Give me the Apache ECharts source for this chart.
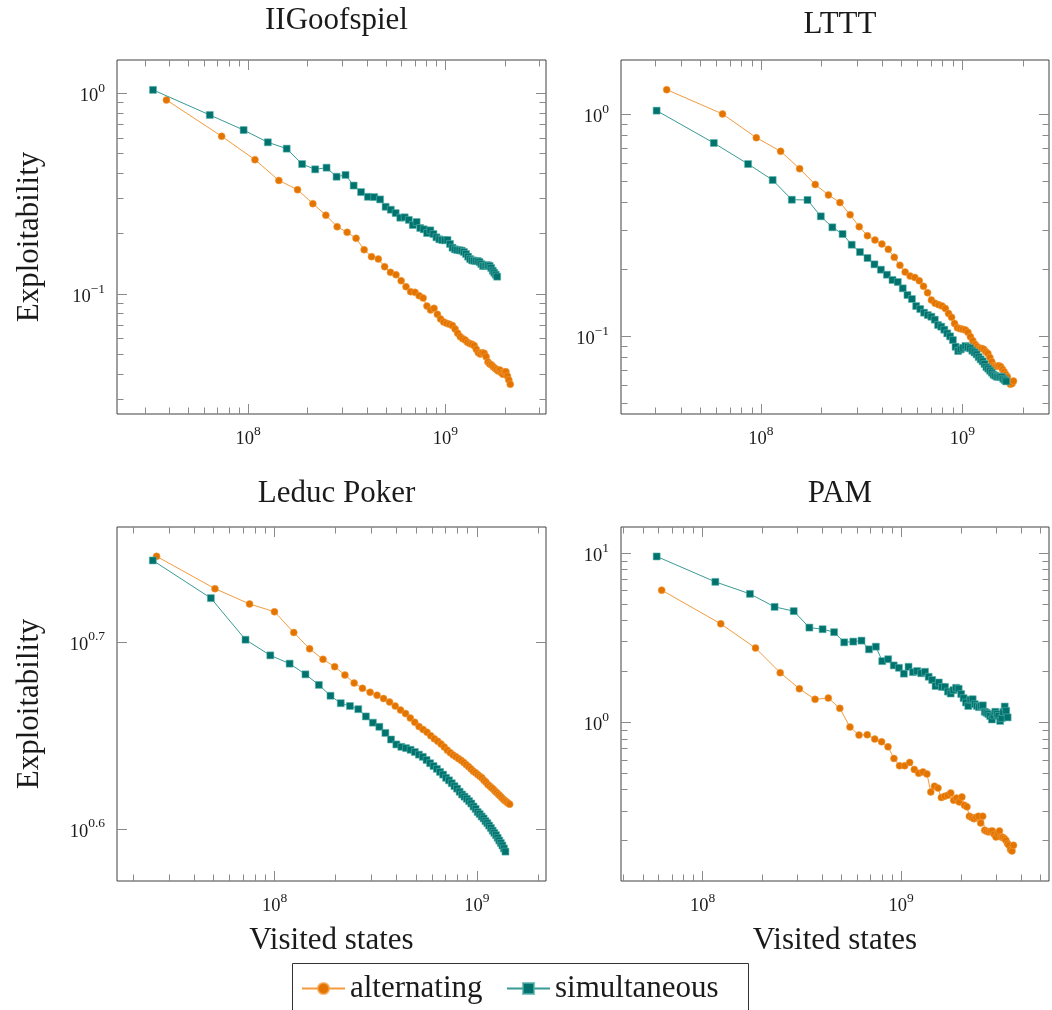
<!DOCTYPE html>
<html><head><meta charset="utf-8">
<script src="https://cdn.jsdelivr.net/npm/echarts@6/dist/echarts.min.js"></script>
<style>html,body{margin:0;padding:0;background:#fff}#chart{width:1052px;height:1010px}</style>
</head><body><div id="chart"></div>
<script>
// ---------------- DATA (x = visited states in millions, y = exploitability) ----------------
const seriesNames = ['alternating', 'simultaneous'];
const panelTitles = ['IIGoofspiel', 'LTTT', 'Leduc Poker', 'PAM'];
const xAxisTitle = 'Visited states';
const yAxisTitle = 'Exploitability';

const goofAltX = [38.6,73.5,108.4,143.3,178.2,213.1,248,282.9,317.8,352.7,387.6,422.5,457.4,492.3,527.2,562.1,597,631.9,666.8,701.7,736.6,771.5,806.4,841.3,876.2,911.1,946,980.9,1015.8,1050.7,1085.6,1120.5,1155.4,1190.3,1225.2,1260.1,1295,1329.9,1364.8,1399.7,1434.6,1469.5,1504.4,1539.3,1574.2,1609.1,1644,1678.9,1713.8,1748.7,1783.6,1818.5,1853.4,1888.3,1923.2,1958.1,1993,2027.9,2062.8,2097.7,2132.6];
const goofAltY = [0.926,0.611,0.467,0.368,0.331,0.282,0.247,0.2165,0.2029,0.1894,0.1663,0.1535,0.1494,0.1368,0.1282,0.1248,0.1165,0.1088,0.1027,0.1019,0.0981,0.0955,0.0871,0.0833,0.0848,0.0792,0.0751,0.0725,0.0714,0.0706,0.0696,0.0669,0.0637,0.0613,0.0599,0.0590,0.0574,0.0566,0.0561,0.0553,0.0530,0.0510,0.0502,0.0510,0.0506,0.0487,0.0458,0.0448,0.0443,0.0434,0.0426,0.0421,0.0413,0.0418,0.0405,0.0398,0.0409,0.0410,0.0390,0.0373,0.0355];
const goofSimX = [33,64,95,126,157,188,219,250,281,312,343,374,405,436,467,498,529,560,591,622,653,684,715,746,777,808,839,870,901,932,963,994,1025,1056,1087,1118,1149,1180,1211,1242,1273,1304,1335,1366,1397,1428,1459,1490,1521,1552,1583,1614,1645,1676,1707,1738,1769,1800,1831];
const goofSimY = [1.04,0.78,0.656,0.570,0.530,0.444,0.418,0.426,0.384,0.392,0.347,0.322,0.305,0.304,0.296,0.272,0.263,0.253,0.240,0.241,0.234,0.2207,0.2284,0.2132,0.2100,0.2012,0.2076,0.1990,0.1916,0.1873,0.1858,0.1851,0.1858,0.1775,0.1701,0.1669,0.1657,0.1651,0.1644,0.1619,0.1582,0.1535,0.1494,0.1471,0.1466,0.1460,0.1460,0.1443,0.1411,0.1379,0.1379,0.1390,0.1390,0.1379,0.1348,0.1307,0.1277,0.1248,0.1220];

const ltttAltX = [34,64.4,94.8,125.2,155.6,186,216.4,246.8,277.2,307.6,338,368.4,398.8,429.2,459.6,490,520.4,550.8,581.2,611.6,642,672.4,702.8,733.2,763.6,794,824.4,854.8,885.2,915.6,946,976.4,1006.8,1037.2,1067.6,1098,1128.4,1158.8,1189.2,1219.6,1250,1280.4,1310.8,1341.2,1371.6,1402,1432.4,1462.8,1493.2,1523.6,1554,1584.4,1614.8,1645.2,1675.6,1706,1736.4,1766.8,1797.2];
const ltttAltY = [1.287,1.0,0.782,0.679,0.567,0.481,0.432,0.399,0.352,0.3109,0.2831,0.2707,0.2597,0.2457,0.2262,0.2082,0.1942,0.1863,0.1837,0.1775,0.1674,0.1567,0.1453,0.1404,0.1384,0.1365,0.1332,0.1265,0.1214,0.1140,0.1090,0.1079,0.1072,0.1064,0.1039,0.0993,0.0953,0.0917,0.0895,0.0880,0.0880,0.0871,0.0850,0.0835,0.0801,0.0766,0.0735,0.0732,0.0732,0.0735,0.0727,0.0708,0.0691,0.0672,0.0656,0.0623,0.0606,0.0612,0.0627];
const ltttSimX = [30.3,58.3,86.3,114.3,142.3,170.3,198.3,226.3,254.3,282.3,310.3,338.3,366.3,394.3,422.3,450.3,478.3,506.3,534.3,562.3,590.3,618.3,646.3,674.3,702.3,730.3,758.3,786.3,814.3,842.3,870.3,898.3,926.3,954.3,982.3,1010.3,1038.3,1066.3,1094.3,1122.3,1150.3,1178.3,1206.3,1234.3,1262.3,1290.3,1318.3,1346.3,1374.3,1402.3,1430.3,1458.3,1486.3,1514.3,1542.3,1570.3,1598.3,1626.3,1654.3];
const ltttSimY = [1.035,0.740,0.595,0.504,0.411,0.410,0.346,0.3087,0.288,0.2578,0.2389,0.2246,0.2103,0.1990,0.1889,0.1788,0.1751,0.1640,0.1530,0.1468,0.1365,0.1323,0.1274,0.1243,0.1222,0.1185,0.1121,0.1102,0.1068,0.1028,0.0997,0.0959,0.0895,0.0856,0.0871,0.0886,0.0902,0.0892,0.0880,0.0859,0.0844,0.0827,0.0804,0.0785,0.0769,0.0748,0.0725,0.0713,0.0698,0.0684,0.0670,0.0663,0.0656,0.0656,0.0656,0.0654,0.0642,0.0633,0.0625];

const leducAltX = [26.1,50.7,75.2,99.8,124.3,148.9,173.4,198,222.5,247.1,271.6,296.2,320.7,345.3,369.8,394.4,418.9,443.5,468,492.6,517.1,541.7,566.2,590.8,615.3,639.9,664.4,689,713.5,738.1,762.6,787.2,811.7,836.3,860.8,885.4,909.9,934.5,959,983.6,1008.1,1032.7,1057.2,1081.8,1106.3,1130.9,1155.4,1180,1204.5,1229.1,1253.6,1278.2,1302.7,1327.3,1351.8,1376.4,1400.9,1425.5,1450];
const leducAltY = [5.568,5.351,5.251,5.201,5.070,4.969,4.905,4.861,4.811,4.764,4.733,4.710,4.693,4.674,4.654,4.631,4.608,4.588,4.563,4.539,4.515,4.499,4.484,4.465,4.448,4.434,4.419,4.403,4.386,4.372,4.360,4.350,4.340,4.331,4.320,4.308,4.297,4.286,4.274,4.266,4.256,4.247,4.239,4.226,4.217,4.205,4.196,4.188,4.180,4.170,4.162,4.153,4.145,4.136,4.128,4.121,4.115,4.109,4.104];
const leducSimX = [25,48.4,71.8,95.2,118.6,142,165.4,188.8,212.2,235.6,259,282.4,305.8,329.2,352.6,376,399.4,422.8,446.2,469.6,493,516.4,539.8,563.2,586.6,610,633.4,656.8,680.2,703.6,727,750.4,773.8,797.2,820.6,844,867.4,890.8,914.2,937.6,961,984.4,1007.8,1031.2,1054.6,1078,1101.4,1124.8,1148.2,1171.6,1195,1218.4,1241.8,1265.2,1288.6,1312,1335.4,1358.8,1382.2];
const leducSimY = [5.540,5.289,5.025,4.929,4.879,4.815,4.753,4.690,4.647,4.631,4.613,4.572,4.537,4.514,4.480,4.444,4.417,4.404,4.397,4.388,4.376,4.362,4.350,4.333,4.316,4.301,4.286,4.270,4.256,4.239,4.226,4.211,4.196,4.183,4.167,4.153,4.142,4.131,4.119,4.107,4.092,4.080,4.064,4.054,4.042,4.032,4.019,4.009,3.997,3.985,3.972,3.961,3.950,3.937,3.924,3.912,3.900,3.886,3.871];

const pamAltX = [62.2,123.4,184.6,245.8,307,368.2,429.4,490.6,551.8,613,674.2,735.4,796.6,857.8,919,980.2,1041.4,1102.6,1163.8,1225,1286.2,1347.4,1408.6,1469.8,1531,1592.2,1653.4,1714.6,1775.8,1837,1898.2,1959.4,2020.6,2081.8,2143,2204.2,2265.4,2326.6,2387.8,2449,2510.2,2571.4,2632.6,2693.8,2755,2816.2,2877.4,2938.6,2999.8,3061,3122.2,3183.4,3244.6,3305.8,3367,3428.2,3489.4,3550.6,3611.8,3673];
const pamAltY = [6.04,3.82,2.75,1.966,1.58,1.368,1.393,1.21,0.938,0.841,0.845,0.797,0.768,0.717,0.612,0.554,0.554,0.580,0.527,0.501,0.510,0.496,0.388,0.420,0.409,0.360,0.366,0.371,0.383,0.347,0.357,0.339,0.363,0.324,0.317,0.279,0.274,0.270,0.275,0.279,0.2545,0.279,0.2306,0.2274,0.2253,0.2274,0.2284,0.2184,0.2103,0.2213,0.2284,0.2103,0.2096,0.2059,0.2011,0.1923,0.1879,0.1772,0.1738,0.1879];
const pamSimX = [58.7,115.9,173.1,230.3,287.5,344.7,401.9,459.1,516.3,573.5,630.7,687.9,745.1,802.3,859.5,916.7,973.9,1031.1,1088.3,1145.5,1202.7,1259.9,1317.1,1374.3,1431.5,1488.7,1545.9,1603.1,1660.3,1717.5,1774.7,1831.9,1889.1,1946.3,2003.5,2060.7,2117.9,2175.1,2232.3,2289.5,2346.7,2403.9,2461.1,2518.3,2575.5,2632.7,2689.9,2747.1,2804.3,2861.5,2918.7,2975.9,3033.1,3090.3,3147.5,3204.7,3261.9,3319.1,3376.3,3433.5];
const pamSimY = [9.55,6.76,5.74,4.81,4.54,3.63,3.55,3.41,2.97,3.00,3.04,2.70,2.80,2.30,2.36,2.17,2.10,1.94,2.13,1.98,2.01,1.95,1.99,1.86,1.78,1.64,1.72,1.62,1.62,1.52,1.48,1.55,1.60,1.58,1.47,1.39,1.31,1.25,1.36,1.37,1.28,1.25,1.23,1.25,1.26,1.155,1.14,1.12,1.09,1.04,1.10,1.155,1.12,1.09,1.02,1.06,1.15,1.24,1.17,1.07];

// ---------------- STYLE / LAYOUT ----------------
const SERIF = "'Liberation Serif','DejaVu Serif',serif";
const TXT = '#1a1a1a';
const TICK = '#8a8a8a';
const ORANGE = '#e37400', ORANGE_LINE = '#f39b3e';
const TEAL = '#00736e', TEAL_LINE = '#3a9a95';
const BIG = 31;

// log10 extents of each panel's axes
const panels = [
  {title: panelTitles[0], alt: [goofAltX, goofAltY], sim: [goofSimX, goofSimY], titleTop: 0,
   grid: {left: 117, top: 60, width: 429, height: 354}, xr: [7.336, 9.51], yr: [-1.598, 0.166], yStep: 1, yMinor: true, yName: true, xName: false},
  {title: panelTitles[1], alt: [ltttAltX, ltttAltY], sim: [ltttSimX, ltttSimY], titleTop: 4,
   grid: {left: 621, top: 60, width: 428, height: 354}, xr: [7.3045, 9.431], yr: [-1.351, 0.243], yStep: 1, yMinor: true, yName: false, xName: false},
  {title: panelTitles[2], alt: [leducAltX, leducAltY], sim: [leducSimX, leducSimY], titleTop: 473,
   grid: {left: 117, top: 527, width: 429, height: 354}, xr: [7.221, 9.341], yr: [0.5721, 0.7614], yStep: 0.1, yMinor: false, yName: true, xName: true},
  {title: panelTitles[3], alt: [pamAltX, pamAltY], sim: [pamSimX, pamSimY], titleTop: 473,
   grid: {left: 621, top: 527, width: 428, height: 354}, xr: [7.589, 9.744], yr: [-0.937, 1.154], yStep: 1, yMinor: true, yName: false, xName: true}
];

function majorTicks(r, step) {
  const out = [];
  for (let k = Math.ceil(r[0] / step - 1e-9); k * step <= r[1] + 1e-9; k++) out.push(+(k * step).toFixed(6));
  return out;
}
function minorTicks(r) {
  const out = [];
  for (let d = Math.floor(r[0]); d <= Math.ceil(r[1]); d++) {
    for (let k = 2; k <= 9; k++) { const v = d + Math.log10(k); if (v > r[0] && v < r[1]) out.push(v); }
  }
  return out;
}
function expLabel(v) {
  let e = Math.abs(v - Math.round(v)) < 1e-6 ? String(Math.round(v)) : (Math.round(v * 10) / 10).toFixed(1);
  e = e.replace('-', '\u2212');
  return '{b|10}{s|' + e + '}';
}
const RICH = {
  b: {fontFamily: SERIF, fontSize: 18.5, color: TXT, padding: [6, 0, 0, 0]},
  s: {fontFamily: SERIF, fontSize: 13.5, color: TXT, padding: [0, 0, 10, 0]}
};

function mkAxis(gi, pos, r, vals, len, withLabels, margin, extra) {
  return Object.assign({
    type: 'value', gridIndex: gi, position: pos, min: r[0], max: r[1], scale: true,
    axisLine: {show: false, onZero: false},
    splitLine: {show: false},
    axisTick: {show: vals.length > 0, inside: true, length: len, customValues: vals, lineStyle: {color: TICK, width: 1}},
    axisLabel: {show: !!withLabels, customValues: vals, formatter: expLabel, rich: RICH, margin: margin || 8},
    silent: true
  }, extra || {});
}

const xAxes = [], yAxes = [], grids = [], titles = [], series = [];
panels.forEach((p, gi) => {
  grids.push(Object.assign({show: true, borderColor: '#404040', borderWidth: 1, backgroundColor: 'transparent', containLabel: false}, p.grid));
  const xMaj = majorTicks(p.xr, 1), xMin = minorTicks(p.xr);
  const yMaj = majorTicks(p.yr, p.yStep), yMin = p.yMinor ? minorTicks(p.yr) : [];
  xAxes.push(mkAxis(gi, 'bottom', p.xr, xMaj, 10, true, 10, p.xName ? {
    name: xAxisTitle, nameLocation: 'middle', nameGap: 44,
    nameTextStyle: {fontFamily: SERIF, fontSize: BIG, color: TXT}
  } : {}));
  xAxes.push(mkAxis(gi, 'bottom', p.xr, xMin, 6.5, false));
  xAxes.push(mkAxis(gi, 'top', p.xr, xMaj, 10, false));
  xAxes.push(mkAxis(gi, 'top', p.xr, xMin, 6.5, false));
  yAxes.push(mkAxis(gi, 'left', p.yr, yMaj, 10, true, 12, p.yName ? {
    name: yAxisTitle, nameLocation: 'middle', nameGap: 72, nameRotate: 90,
    nameTextStyle: {fontFamily: SERIF, fontSize: BIG, color: TXT}
  } : {}));
  yAxes.push(mkAxis(gi, 'left', p.yr, yMin, 6.5, false));
  yAxes.push(mkAxis(gi, 'right', p.yr, yMaj, 10, false));
  yAxes.push(mkAxis(gi, 'right', p.yr, yMin, 6.5, false));

  titles.push({
    text: p.title, left: p.grid.left + p.grid.width / 2, top: p.titleTop, textAlign: 'center',
    textStyle: {fontFamily: SERIF, fontSize: BIG, fontWeight: 'normal', color: TXT}
  });

  const toPts = (xs, ys) => xs.map((x, i) => [Math.log10(x * 1e6), Math.log10(ys[i])]);
  series.push({
    type: 'line', name: seriesNames[0], xAxisIndex: gi * 4, yAxisIndex: gi * 4,
    data: toPts(p.alt[0], p.alt[1]), symbol: 'circle', symbolSize: 7, showSymbol: true,
    lineStyle: {color: ORANGE_LINE, width: 1}, itemStyle: {color: ORANGE, borderColor: 'rgba(245,160,70,0.7)', borderWidth: 0.8},
    emphasis: {disabled: true}, animation: false, z: 2
  });
  series.push({
    type: 'line', name: seriesNames[1], xAxisIndex: gi * 4, yAxisIndex: gi * 4,
    data: toPts(p.sim[0], p.sim[1]), symbol: 'rect', symbolSize: 7, showSymbol: true,
    lineStyle: {color: TEAL_LINE, width: 1}, itemStyle: {color: TEAL, borderColor: 'rgba(90,180,175,0.7)', borderWidth: 0.8},
    emphasis: {disabled: true}, animation: false, z: 3
  });
});

const legendBase = {
  top: 973, orient: 'horizontal', itemWidth: 43, itemHeight: 14, padding: 0,
  textStyle: {fontFamily: SERIF, fontSize: BIG, color: TXT}, selectedMode: false
};

const chart = echarts.init(document.getElementById('chart'), null, {renderer: 'canvas'});
chart.setOption({
  animation: false,
  backgroundColor: '#ffffff',
  title: titles,
  grid: grids,
  xAxis: xAxes,
  yAxis: yAxes,
  legend: [
    Object.assign({data: [seriesNames[0]], left: 301}, legendBase),
    Object.assign({data: [seriesNames[1]], left: 506}, legendBase)
  ],
  graphic: [{
    type: 'rect', silent: true, x: 0, y: 0,
    shape: {x: 292.5, y: 963.5, width: 456, height: 60},
    style: {fill: 'none', stroke: '#333', lineWidth: 1}
  }],
  series: series
});
</script>
</body></html>
